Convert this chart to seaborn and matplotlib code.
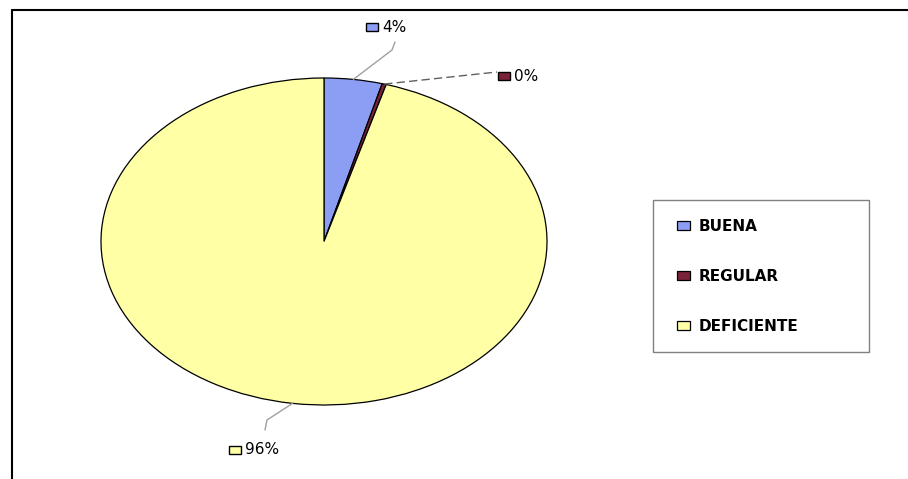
import matplotlib
matplotlib.use("Agg")
import matplotlib.pyplot as plt
import seaborn as sns
import numpy as np
from matplotlib.lines import Line2D
from matplotlib.patches import Rectangle

# ---- data ----
categories = ["BUENA", "REGULAR", "DEFICIENTE"]
values = [4.2, 0.3, 95.5]
colors = ["#8C9EF4", "#7A2238", "#FFFFA6"]
label_texts = [f"{v:.0f}%" for v in values]

sns.set_theme(style="white")
plt.rcParams['font.family'] = ['DejaVu Sans']

W, H = 908, 479
fig = plt.figure(figsize=(W / 100, H / 100), dpi=100)
ax = fig.add_axes([0, 0, 1, 1])

cx, cy, rx, ry = 324, 241.5, 223, 163.5


def px(x, y):
    return ((x - cx) / rx, (cy - y) / ry)


wedges, _ = ax.pie(values, colors=colors, startangle=90, counterclock=False,
                   wedgeprops=dict(edgecolor="black", linewidth=0.9))
ax.set_aspect('auto')
ax.set_xlim(-cx / rx, (W - cx) / rx)
ax.set_ylim((cy - H) / ry, cy / ry)
ax.axis('off')

# label layout (pixel positions of leader elbows and label markers)
leader_pts = [[(392, 50), (395, 42)], [(497, 72)], [(267, 420), (265, 430)]]
label_pos = [(372, 27), (504, 76), (235, 450)]
leader_style = [dict(color="#A0A0A0", lw=1.0, ls="-"),
                dict(color="#606060", lw=1.0, ls=(0, (6, 3))),
                dict(color="#A0A0A0", lw=1.0, ls="-")]

for w, pts, lp, st, txt, col in zip(wedges, leader_pts, label_pos,
                                     leader_style, label_texts, colors):
    mid = np.deg2rad((w.theta1 + w.theta2) / 2)
    xs = [np.cos(mid)] + [px(*p)[0] for p in pts]
    ys = [np.sin(mid)] + [px(*p)[1] for p in pts]
    ax.plot(xs, ys, **st, zorder=1)
    mx, my = lp
    x0, y0 = px(mx - 6, my + 4)
    ax.add_patch(Rectangle((x0, y0), 12 / rx, 8 / ry, facecolor=col,
                           edgecolor="black", lw=1.0, zorder=3))
    tx, ty = px(mx + 10, my)
    ax.text(tx, ty, txt, ha="left", va="center", fontsize=11,
            color="black")

# legend
leg = fig.legend(wedges, categories, loc="upper left",
                 bbox_to_anchor=(677 / W, 1 - 219 / H),
                 frameon=False, borderpad=0, borderaxespad=0,
                 handlelength=0.85, handleheight=0.55, handletextpad=0.55,
                 labelspacing=2.3,
                 prop=dict(weight="bold", size=11))
for t in leg.get_texts():
    t.set_color("black")

fig.patches.append(Rectangle((653 / W, 1 - 352 / H), 216 / W, 152 / H,
                             transform=fig.transFigure, fill=False,
                             edgecolor="#808080", lw=1.0))

# outer frame (top and left edges)
fig.lines.append(Line2D([12 / W, 12 / W], [0, 1 - 10 / H],
                        transform=fig.transFigure, color="black", lw=1.5))
fig.lines.append(Line2D([12 / W, 1], [1 - 10 / H, 1 - 10 / H],
                        transform=fig.transFigure, color="black", lw=1.5))

fig.savefig("out.png", dpi=100, facecolor="white")
